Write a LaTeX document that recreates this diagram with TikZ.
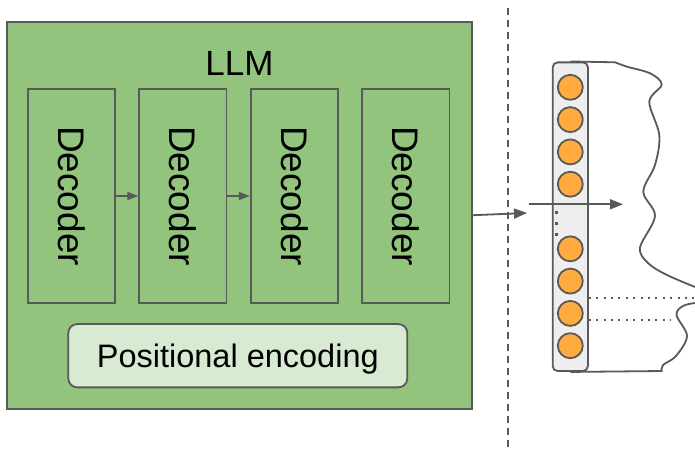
\documentclass[tikz,border=0pt]{standalone}
\usepackage{fontspec}
\setmainfont{Liberation Sans}
\usetikzlibrary{arrows.meta}
\usetikzlibrary{positioning}

\definecolor{llmgreen}{HTML}{93C47D}
\definecolor{encgreen}{HTML}{D9EAD3}
\definecolor{tokorange}{HTML}{FFAB40}
\definecolor{bargray}{HTML}{EEEEEE}
\definecolor{edgegray}{HTML}{595959}

\begin{document}
\begin{tikzpicture}[x=1pt, y=-1pt,
        L/.style={draw=edgegray, line width=1.8pt},
        llmbox/.style={L, fill=llmgreen, minimum width=464.7pt, minimum height=387pt, inner sep=0pt},
        dec/.style={L, fill=llmgreen, minimum width=87.3pt, minimum height=213.7pt, inner sep=0pt,
            font=\fontsize{37}{40}\selectfont},
        enc/.style={L, fill=encgreen, rounded corners=9pt, minimum width=339pt, minimum height=63.3pt,
            inner sep=0pt, text depth=0pt, font=\fontsize{32.5}{35}\selectfont},
        bar/.style={L, fill=bargray, rounded corners=5pt, minimum width=35.3pt, minimum height=308.7pt, inner sep=0pt},
        tok/.style={L, circle, fill=tokorange, minimum size=25pt, inner sep=0pt},
        dot/.style={fill=edgegray, minimum size=2.8pt, inner sep=0pt},
        big/.style={L, -{Triangle[length=13pt, width=10pt]}},
        small/.style={L, -{Triangle[length=11pt, width=8pt]}},
        dotted line/.style={edgegray, line width=2pt, dash pattern=on 2pt off 5.4pt}
    ]

    \useasboundingbox (0,0) rectangle (695,450);
    \clip (0,0) rectangle (695,450);

    \def\dx{111.5}
    \def\h{32.3}

    % the model
    \node (llm) [llmbox] at (239.7,215.2) {};
    \node (llmlabel) at (239.5,63) {\fontsize{35}{38}\selectfont LLM};
    \foreach \i in {1,...,4}{
        \node (dec\i) [dec] at ({71.3+\dx*(\i-1)},196) {\rotatebox{-90}{Decoder}};
    }
    \draw[small] (dec1.east) -- (dec2.west);
    \draw[small] (dec2.east) -- (dec3.west);
    \node (enc) [enc] at (237.8,355.7) {Positional encoding};

    % separator
    \coordinate (septop) at (508.3,8);
    \coordinate (sepbot) at (508.3,450);
    \draw[L, dash pattern=on 7pt off 5pt] (septop) -- (sepbot);

    % embedding vector
    \node (vec) [bar] at (570.3,216.7) {};
    \foreach \y [count=\k] in {0,1,2,3,5,6,7,8}{
        \node (tok\k) [tok] at (570.3,{87.3+\h*\y}) {};
    }
    \foreach \y in {212.7,223.5,234.3}{
        \node [dot] at (556.3,\y) {};
    }

    \coordinate (vecin) at (527,213);
    \draw[big] (llm.east) -- (vecin);
    \coordinate (hstart) at (529,204.3);
    \coordinate (hend) at (623,204.3);
    \draw[big] (hstart) -- (hend);

    % torn sheet
    \draw[L] (vec.north) -- (615,62.3)
        plot[smooth, tension=0.55] coordinates {(615,62.3) (627,66.7) (650,73.3) (661.7,84.5)
            (649.3,101.7) (659.3,135) (655,165) (643.3,191.7) (655,216) (640,247.5)
            (648,263) (667,275) (700,289)};
    \draw[L] plot[smooth, tension=0.55] coordinates {(702,302) (684,305.5) (676.5,315) (687,336)
            (676,356) (663,365) (661.7,371)} -- (vec.south);

    \coordinate (dotend1) at (695,298.3);
    \coordinate (dotend2) at (671,319.5);
    \draw[dotted line] (vec.east |- dotend1) -- (dotend1);
    \draw[dotted line] (vec.east |- dotend2) -- (dotend2);
\end{tikzpicture}
\end{document}
